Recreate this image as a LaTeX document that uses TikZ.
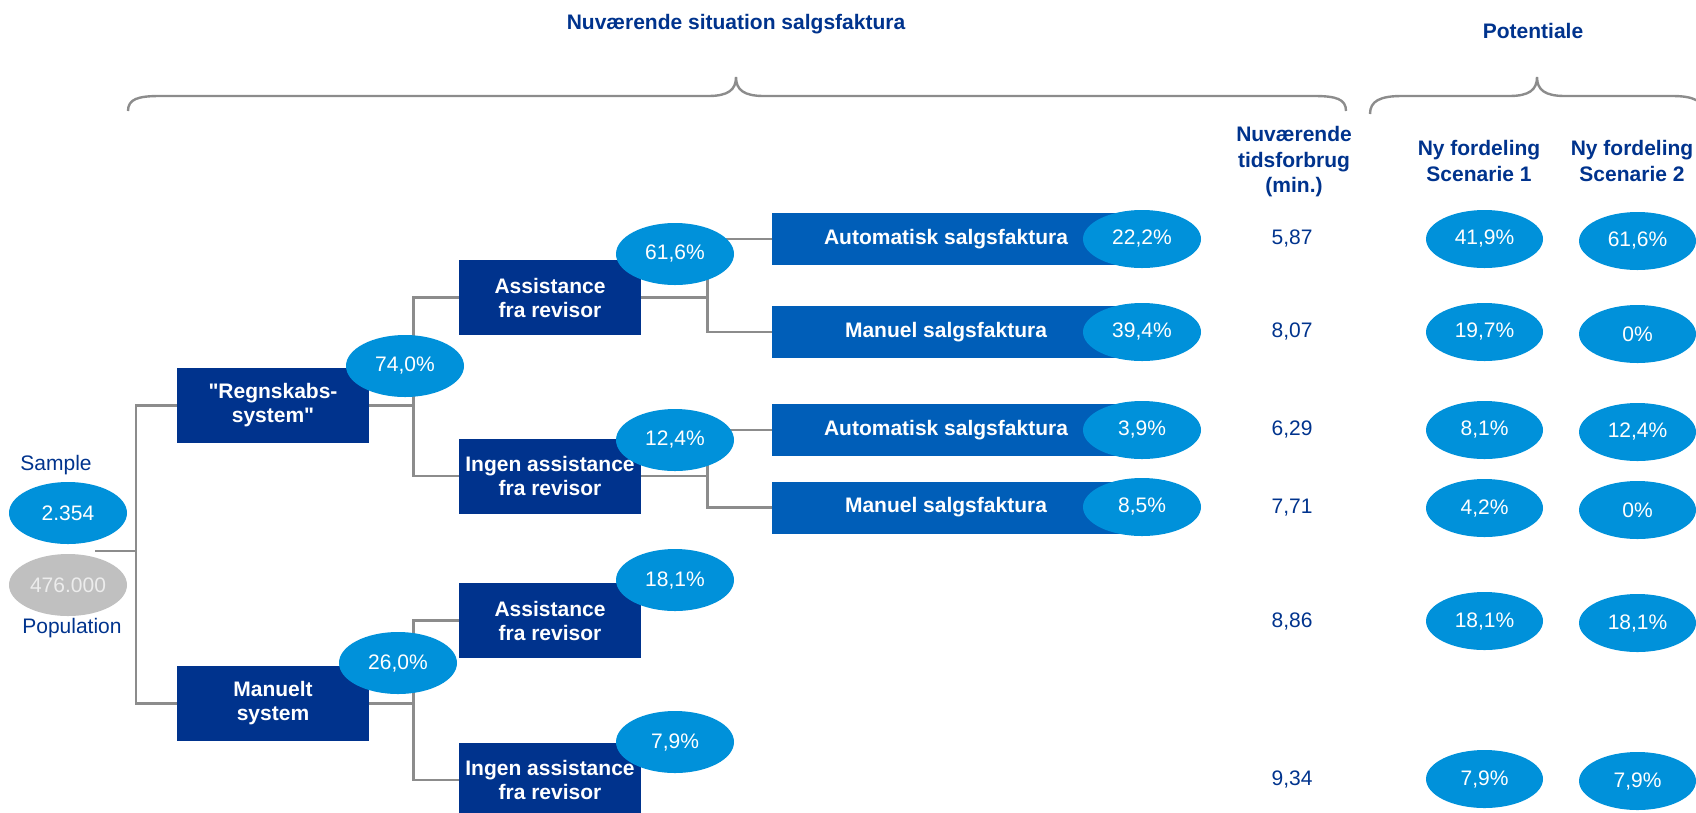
\documentclass[tikz,border=0pt]{standalone}
\usepackage{fontspec}
\setmainfont{Liberation Sans}[Ligatures=TeXOff]
\usetikzlibrary{shapes.geometric}
\pgfdeclarelayer{background}
\pgfsetlayers{background,main}
\definecolor{kpnavy}{HTML}{00338D}
\definecolor{kpblue}{HTML}{005EB8}
\definecolor{kplight}{HTML}{0091DA}
\definecolor{kpgrey}{HTML}{C0C0C0}
\definecolor{kpgreytext}{HTML}{ECECEC}
\definecolor{kpline}{HTML}{8C8C8C}

\begin{document}
\begin{tikzpicture}[x=1pt, y=-1pt,
  head/.style={text=kpnavy, align=center, inner sep=0pt, font=\bfseries\fontsize{21}{25.5}\selectfont},
  lbl/.style={text=kpnavy, inner sep=0pt, font=\fontsize{21}{25}\selectfont},
  navybox/.style={fill=kpnavy, text=white, align=center, minimum height=75pt, inner sep=0pt, font=\bfseries\fontsize{21}{24}\selectfont},
  bluebox/.style={fill=kpblue, text=white, minimum width=348pt, minimum height=52pt, inner sep=0pt, font=\bfseries\fontsize{21}{24}\selectfont},
  oval/.style={ellipse, fill=kplight, text=white, minimum width=118pt, minimum height=62pt, inner sep=0pt, font=\fontsize{21}{25}\selectfont},
  link/.style={draw=kpline, line width=2.8pt},
  brace/.style={draw=kpline, line width=2.4pt}]
\useasboundingbox (0,0) rectangle (1696,812);
\clip (0,0) rectangle (1696,812);

\node[head] (title) at (736,24) {Nuværende situation salgsfaktura};
\node[head] (pot) at (1533,31) {Potentiale};
\node[head] (htid) at (1294,162) {Nuværende\\tidsforbrug\\(min.)};
\node[head] (hsc1) at (1479,161) {Ny fordeling\\Scenarie 1};
\node[head] (hsc2) at (1632,161) {Ny fordeling\\Scenarie 2};

\draw[brace] (128,111) .. controls (128,99) and (138,96) .. (160,96) -- (708,96) .. controls (728,96) and (736,90) .. (736,77) .. controls (736,90) and (744,96) .. (764,96) -- (1314,96) .. controls (1336,96) and (1346,99) .. (1346,111);
\draw[brace] (1370,114) .. controls (1370,101) and (1380,96) .. (1402,96) -- (1509,96) .. controls (1529,96) and (1537,90) .. (1537,77) .. controls (1537,90) and (1545,96) .. (1565,96) -- (1672,96) .. controls (1694,96) and (1704,101) .. (1704,114);

\node[lbl] (smpl) at (56,465) {Sample};
\node[oval] (smp) at (68,513) {2.354};
\node[oval, fill=kpgrey, text=kpgreytext] (pop) at (68,585) {476.000};
\node[lbl] (popl) at (72,628) {Population};
\coordinate (root) at (95,551);

\node[navybox, minimum width=192pt] (regn) at (273,405.5) {"Regnskabs-\\system"};
\node[navybox, minimum width=192pt] (manu) at (273,703.5) {Manuelt\\system};

\node[navybox, minimum width=182pt] (ass1) at (550,297.5) {Assistance\\fra revisor};
\node[navybox, minimum width=182pt] (ing1) at (550,476) {Ingen assistance\\fra revisor};
\node[navybox, minimum width=182pt] (ass2) at (550,620.5) {Assistance\\fra revisor};
\node[navybox, minimum width=182pt] (ing2) at (550,780) {Ingen assistance\\fra revisor};

\node[bluebox] (aut1) at (946,239) {Automatisk salgsfaktura};
\node[bluebox] (man1) at (946,332) {Manuel salgsfaktura};
\node[bluebox] (aut2) at (946,430) {Automatisk salgsfaktura};
\node[bluebox] (man2) at (946,507.5) {Manuel salgsfaktura};

\begin{pgfonlayer}{background}
\draw[link] (root) -- ++(41,0) |- (regn.west);
\draw[link] (root) -- ++(41,0) |- (manu.west);
\draw[link] (regn.east) -- ++(44,0) |- (ass1.west);
\draw[link] (regn.east) -- ++(44,0) |- (ing1.west);
\draw[link] (manu.east) -- ++(44,0) |- (ass2.west);
\draw[link] (manu.east) -- ++(44,0) |- (ing2.west);
\draw[link] (ass1.east) -- ++(66,0) |- (aut1.west);
\draw[link] (ass1.east) -- ++(66,0) |- (man1.west);
\draw[link] (ing1.east) -- ++(66,0) |- (aut2.west);
\draw[link] (ing1.east) -- ++(66,0) |- (man2.west);
\end{pgfonlayer}

\node[oval] (p740) at (405,366) {74,0\%};
\node[oval] (p260) at (398,663) {26,0\%};
\node[oval] (p616) at (675,254) {61,6\%};
\node[oval] (p124) at (675,440) {12,4\%};
\node[oval] (p181) at (675,580) {18,1\%};
\node[oval] (p79) at (675,742) {7,9\%};

\node[oval, minimum height=58pt] (p222) at (1142,239) {22,2\%};
\node[oval, minimum height=58pt] (p394) at (1142,332) {39,4\%};
\node[oval, minimum height=58pt] (p39) at (1142,430) {3,9\%};
\node[oval, minimum height=58pt] (p85) at (1142,507) {8,5\%};

\foreach \yy/\tid/\sa/\sb [count=\i] in {239/{5,87}/{41,9}/{61,6}, 332/{8,07}/{19,7}/{0}, 430/{6,29}/{8,1}/{12,4}, 508/{7,71}/{4,2}/{0}, 621/{8,86}/{18,1}/{18,1}, 779/{9,34}/{7,9}/{7,9}}
{
\node[lbl] (tid\i) at (1292,\yy) {\tid};
\node[oval, minimum width=117pt, minimum height=58pt] (sa\i) at (1484.5,\yy) {\sa\%};
\node[oval, minimum width=117pt, minimum height=58pt] (sb\i) at (1637.5,\yy+2) {\sb\%};
}
\end{tikzpicture}
\end{document}
